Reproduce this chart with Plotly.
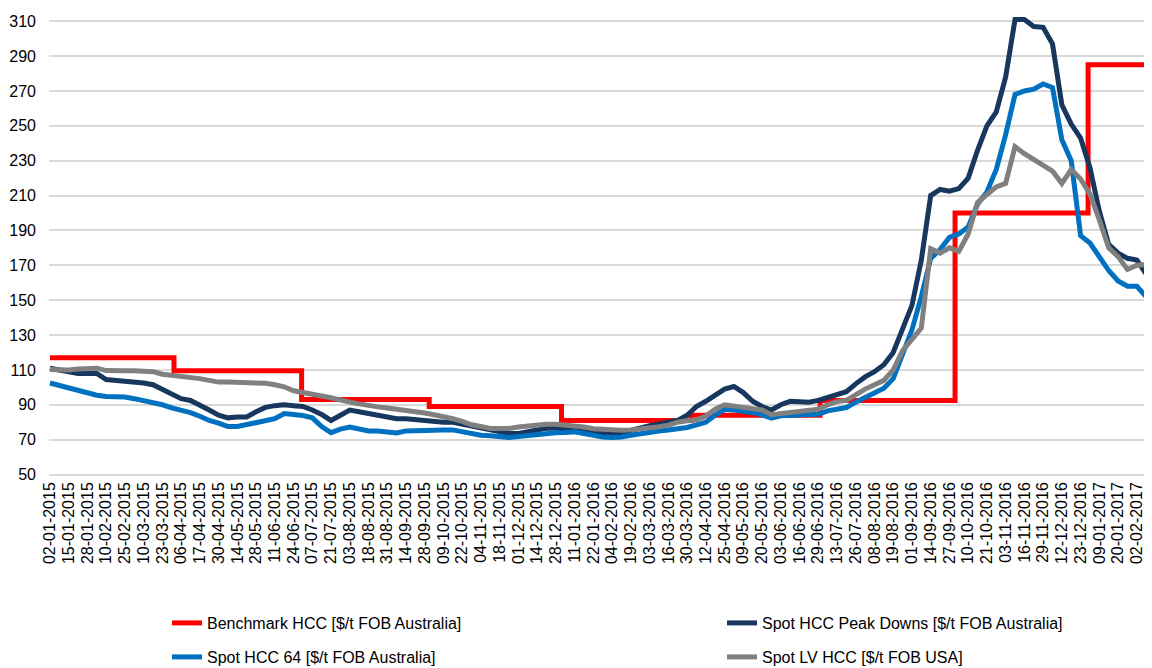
import numpy as np
import plotly.graph_objects as go

# x-axis labels, one every 10 observations
tick_labels = [
    "02-01-2015", "15-01-2015", "28-01-2015", "10-02-2015", "25-02-2015", "10-03-2015",
    "23-03-2015", "06-04-2015", "17-04-2015", "30-04-2015", "14-05-2015", "28-05-2015",
    "11-06-2015", "24-06-2015", "07-07-2015", "21-07-2015", "03-08-2015", "18-08-2015",
    "31-08-2015", "14-09-2015", "28-09-2015", "09-10-2015", "22-10-2015", "04-11-2015",
    "18-11-2015", "01-12-2015", "14-12-2015", "28-12-2015", "11-01-2016", "22-01-2016",
    "04-02-2016", "19-02-2016", "03-03-2016", "16-03-2016", "30-03-2016", "12-04-2016",
    "25-04-2016", "09-05-2016", "20-05-2016", "03-06-2016", "16-06-2016", "29-06-2016",
    "13-07-2016", "26-07-2016", "08-08-2016", "19-08-2016", "01-09-2016", "14-09-2016",
    "27-09-2016", "10-10-2016", "21-10-2016", "03-11-2016", "16-11-2016", "29-11-2016",
    "12-12-2016", "23-12-2016", "09-01-2017", "20-01-2017", "02-02-2017", "15-02-2017",
]

# quarterly benchmark: start of each quarter (in tick units) and price
benchmark_x = [0, 6.62, 13.43, 20.24, 27.3, 34.2, 41.1, 48.3, 55.4, 59.5]
benchmark_hcc = [117, 109.5, 93, 89, 81, 84, 92.5, 200, 285, 285]

# spot prices, sampled every half tick (5 observations)
peak_downs = [
    111, 110, 109, 108, 108, 108, 104.5, 104, 104, 103.5,
    102.5, 101.5, 99, 96, 93.5, 92.5, 90, 87, 84, 82.5,
    83, 83, 86, 88.5, 89.5, 90, 89.5, 89, 87, 84.5,
    81, 84, 87, 86, 85, 84, 83, 82, 82, 81.5,
    80.5, 80, 80, 80, 79, 77.5, 76.5, 75.5, 74.5, 73.5,
    73.5, 74.5, 75.5, 76.5, 76.5, 76.5, 76, 74.5, 74, 74,
    73.5, 74, 75.5, 77, 78, 79, 80, 81, 84, 89,
    92, 95.5, 99, 100.5, 97, 92, 89, 87, 90, 92,
    92, 91.5, 92.5, 94, 96, 97.5, 102, 106, 109, 113,
    120, 133, 147, 173, 210, 213.5, 212.5, 214, 220, 236,
    250, 258, 278, 311, 311, 307, 306.5, 297, 262, 251,
    243, 226, 201, 182, 177, 174, 173, 165, 145,
]
hcc_64 = [
    102.5, 101, 100, 98.5, 97, 95.5, 94.8, 94.8, 94.5, 93.5,
    92.5, 91.5, 90, 88.2, 87, 85.5, 83.4, 81, 79.5, 77.5,
    77.5, 78.5, 79.7, 80.5, 82, 85, 84.5, 83.8, 82.5, 77.5,
    74, 76, 77.2, 76, 75, 75, 74.5, 73.8, 75, 75.3,
    75.5, 75.6, 75.6, 75.6, 74.5, 73, 72.5, 72.2, 71.8, 71.3,
    71.8, 72.5, 73.3, 73.8, 74, 74.1, 74.5, 73.5, 72.5, 71.5,
    71.3, 71.5, 72.5, 73.5, 74.3, 75, 75.5, 76.2, 77, 78.5,
    80, 84, 87.4, 87, 86.5, 85.5, 84.2, 82.3, 83.7, 84,
    84.1, 84.1, 84.5, 86.5, 87.8, 88.4, 91.5, 94, 96.5, 99.5,
    105, 119, 133, 152, 174, 179, 186, 188, 192, 205,
    212, 225, 245, 268, 270, 271, 274, 272, 242, 230,
    187, 182.8, 175.5, 167, 161, 158, 158, 152, 141,
]
lv_hcc_usa = [
    110.3, 110, 110, 110.5, 111, 111, 109.6, 109.3, 109.5, 109.5,
    109.3, 109, 107.5, 107, 106.7, 105.8, 105, 104, 103, 103,
    103, 103, 102.8, 102.3, 101.5, 100.3, 98, 97.2, 96.2, 95,
    94, 92.5, 91.5, 90.5, 89.3, 88.8, 88.2, 87.5, 87.2, 86.3,
    85.3, 84.3, 83.5, 82, 80.5, 78.5, 77.5, 76.4, 76.4, 76.4,
    77.3, 78, 78.5, 78.8, 78.8, 78.5, 77.6, 77.3, 76.3, 75.8,
    75.2, 75.4, 75.6, 76, 76.7, 77.4, 78.3, 80, 80.8, 81.4,
    83.5, 87.5, 90, 89.5, 88.5, 87.7, 87, 84.3, 85, 85.8,
    86.3, 86.8, 87.5, 90, 91.8, 92.5, 96, 99, 101.5, 104,
    110, 121, 127.5, 134, 179.5, 177, 180, 178, 188, 206,
    210.5, 215, 217, 238, 234, 230.4, 227.5, 224, 217, 225,
    219.5, 211, 196, 180, 175, 167.6, 170, 170.5, 166,
]

x_spot = np.arange(len(peak_downs)) * 0.5

FONT = "Liberation Sans, Arial, sans-serif"
# the page body keeps an 8px margin, so the figure is 8px smaller than the window
W, H = 1144, 660

fig = go.Figure()
fig.add_trace(go.Scatter(x=benchmark_x, y=benchmark_hcc, mode="lines", line_shape="hv",
                         name="Benchmark HCC [$/t FOB Australia]",
                         line=dict(color="#FF0000", width=5), legend="legend"))
fig.add_trace(go.Scatter(x=x_spot, y=peak_downs, mode="lines",
                         name="Spot HCC Peak Downs [$/t FOB Australia]",
                         line=dict(color="#17375E", width=5), legend="legend2"))
fig.add_trace(go.Scatter(x=x_spot, y=hcc_64, mode="lines",
                         name="Spot HCC 64 [$/t FOB Australia]",
                         line=dict(color="#0070C0", width=5), legend="legend3"))
fig.add_trace(go.Scatter(x=x_spot, y=lv_hcc_usa, mode="lines",
                         name="Spot LV HCC [$/t FOB USA]",
                         line=dict(color="#808080", width=5), legend="legend4"))


def legend_at(px, py):
    return dict(x=px / W, y=1 - py / H, xref="container", yref="container",
                xanchor="left", yanchor="middle", bgcolor="rgba(0,0,0,0)",
                font=dict(family=FONT, size=16, color="#000000"))


fig.update_layout(
    width=W, height=H,
    margin=dict(l=41, r=0, t=8, b=190, autoexpand=False),
    paper_bgcolor="white", plot_bgcolor="white",
    font=dict(family=FONT, size=16, color="#000000"),
    showlegend=True,
    legend=legend_at(159, 615),
    legend2=legend_at(714, 615),
    legend3=legend_at(159, 649),
    legend4=legend_at(714, 649),
    xaxis=dict(range=[-0.05, 58.81], tickmode="array", tickvals=list(range(len(tick_labels))),
               ticktext=tick_labels, tickangle=-90, showgrid=False, zeroline=False,
               showline=False, ticks="", tickfont=dict(size=16, color="#000000")),
    yaxis=dict(range=[48, 313], tick0=50, dtick=20, showgrid=True, gridcolor="#D9D9D9",
               gridwidth=1.5, zeroline=False, showline=False, ticks="",
               ticklabelstandoff=12, tickfont=dict(size=16, color="#000000")),
)

fig.write_html("out.html")
